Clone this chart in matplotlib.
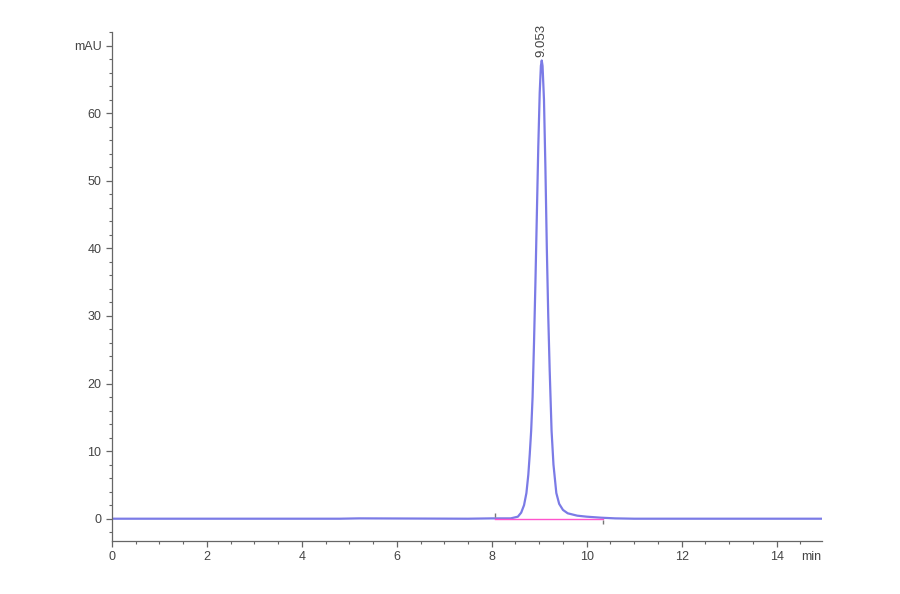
import matplotlib
matplotlib.use("Agg")
import matplotlib.pyplot as plt
from matplotlib.ticker import MultipleLocator

plt.rcParams['font.family'] = ['Liberation Sans', 'DejaVu Sans']

# Chromatogram trace (time in min, signal in mAU)
time_min = [0.0, 4.8, 5.2, 7.5, 8.0, 8.4, 8.55, 8.62, 8.68, 8.73, 8.77, 8.80,
            8.83, 8.86, 8.89, 8.92, 8.95, 8.98, 9.01, 9.035, 9.053, 9.07, 9.10,
            9.13, 9.16, 9.19, 9.22, 9.26, 9.30, 9.36, 9.42, 9.50, 9.60, 9.80,
            10.0, 10.3, 10.6, 11.0, 12.0, 14.0, 15.0]
signal_mau = [0.0, 0.0, 0.05, 0.0, 0.05, 0.05, 0.3, 0.9, 2.0, 3.8, 6.5, 9.5,
              13.0, 18.0, 26.0, 35.0, 45.0, 55.0, 63.0, 67.0, 67.8, 67.0, 62.0,
              52.0, 40.0, 30.0, 22.0, 13.0, 8.0, 3.8, 2.2, 1.3, 0.8, 0.45,
              0.3, 0.15, 0.05, 0.0, 0.0, 0.0, 0.0]

# integration baseline
base_t = [8.06, 10.34]
base_v = [0.0, 0.0]

peak_rt = 9.053
peak_label = "9.053"

y_ticks = [0, 10, 20, 30, 40, 50, 60, 70]
y_labels = ["0", "10", "20", "30", "40", "50", "60", "mAU"]
x_ticks = [0, 2, 4, 6, 8, 10, 12, 14]

fig = plt.figure(figsize=(9, 5.94), dpi=100)
ax = fig.add_axes([0.1244, 0.0892, 0.7886, 0.8568])

ax.plot(time_min, signal_mau, color='#5a5ae0', lw=1.6, alpha=0.8)
ax.plot(base_t, base_v, color='#ff55cc', lw=1.0)
ax.plot([base_t[0]], [0.5], marker='|', color='#777777', ms=3)
ax.plot([base_t[1]], [-0.5], marker='|', color='#777777', ms=3)

ax.text(peak_rt, 68.3, peak_label, rotation=90, ha='center', va='bottom',
        fontsize=9.5, color='#444444')

ax.set_xlim(0, 14.95)
ax.set_ylim(-3.3, 72)

ax.set_xticks(x_ticks)
ax.set_yticks(y_ticks)
ax.set_yticklabels(y_labels)
ax.xaxis.set_minor_locator(MultipleLocator(0.5))
ax.yaxis.set_minor_locator(MultipleLocator(2))

for side in ['top', 'right']:
    ax.spines[side].set_visible(False)
for side in ['left', 'bottom']:
    ax.spines[side].set_color('#666666')
    ax.spines[side].set_linewidth(0.9)

ax.tick_params(which='major', length=4, width=0.9, color='#666666',
               labelsize=9, labelcolor='#444444')
ax.tick_params(which='minor', length=2.5, width=0.8, color='#666666')

ax.text(1.0, -0.02, "min", transform=ax.transAxes, ha='right', va='top',
        fontsize=9, color='#444444')

fig.savefig("out.png", dpi=100)
